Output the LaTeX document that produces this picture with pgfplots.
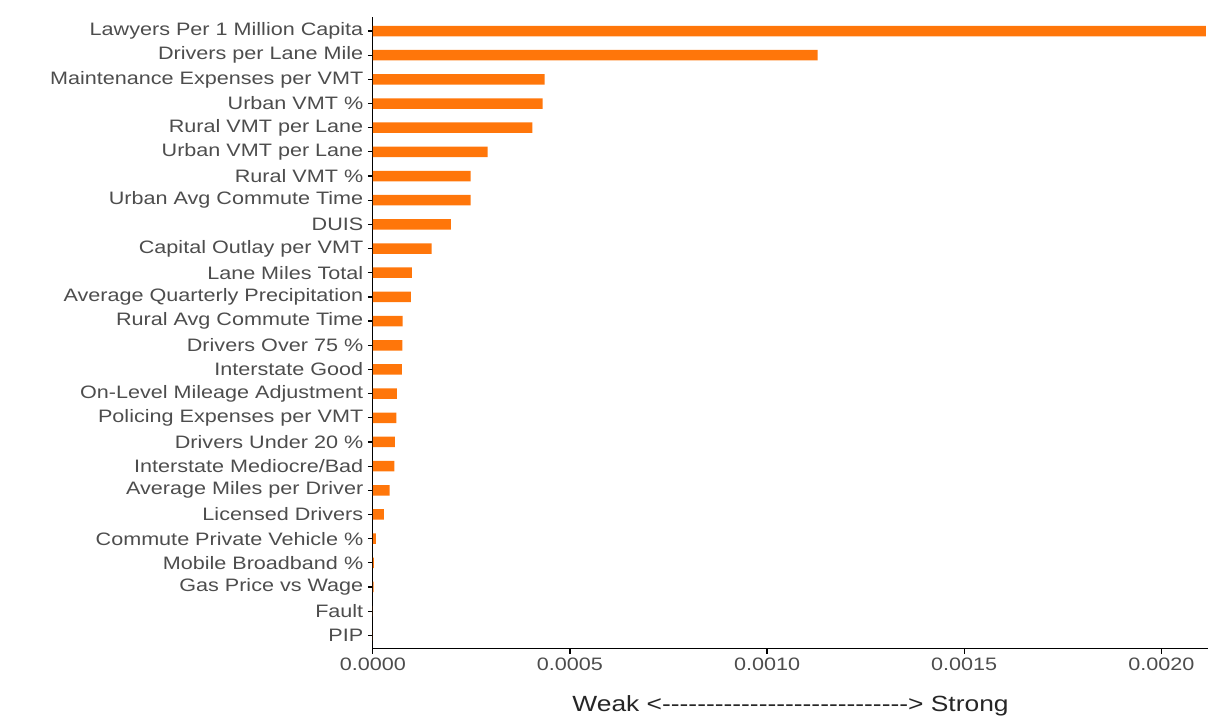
\documentclass[border=0pt]{standalone}
\usepackage{pgfplots}
\pgfplotsset{compat=1.18}
\usepackage{fontspec}
\setmainfont[FakeStretch=1.2]{Liberation Sans}
\definecolor{barorange}{RGB}{255,118,10}
\definecolor{txtgray}{RGB}{77,77,77}
\newcommand{\dashes}{{-}{-}{-}{-}{-}{-}{-}{-}{-}{-}{-}{-}{-}{-}{-}{-}{-}{-}{-}{-}{-}{-}{-}{-}{-}{-}{-}{-}}
\begin{document}
\begin{tikzpicture}
\begin{axis}[
  name=ax,
  scale only axis,
  width=836pt, height=632pt,
  xbar, bar width=10.5pt,
  xmin=0, xmax=0.002119,
  ymin=-0.55, ymax=25.58,
  axis x line*=bottom, axis y line*=left,
  axis line style={line width=1.4pt, black},
  tick style={line width=1.2pt, black},
  tick align=outside, major tick length=5pt,
  scaled x ticks=false,
  xtick={0,0.0005,0.001,0.0015,0.002},
  xticklabels={0.0000,0.0005,0.0010,0.0015,0.0020},
  ytick={0,...,25},
  yticklabels={PIP,Fault,Gas Price vs Wage,Mobile Broadband \%,Commute Private Vehicle \%,Licensed Drivers,Average Miles per Driver,Interstate Mediocre/Bad,Drivers Under 20 \%,Policing Expenses per VMT,On-Level Mileage Adjustment,Interstate Good,Drivers Over 75 \%,Rural Avg Commute Time,Average Quarterly Precipitation,Lane Miles Total,Capital Outlay per VMT,DUIS,Urban Avg Commute Time,Rural VMT \%,Urban VMT per Lane,Rural VMT per Lane,Urban VMT \%,Maintenance Expenses per VMT,Drivers per Lane Mile,Lawyers Per 1 Million Capita},
  ticklabel style={font=\fontsize{18}{20}\selectfont, text=txtgray},
  /pgf/number format/assume math mode=true,
  yticklabel style={xshift=-1pt},
  xticklabel style={yshift=-1pt},
  xlabel={Weak <\dashes> Strong},
  xlabel style={at={(rel axis cs:0.5,0)}, anchor=base, yshift=-63pt, font=\fontsize{22}{24}\selectfont, text=black!85},
  clip=false,
]
\addplot[fill=barorange, draw=none] coordinates {
(0,0) (0,1) (0.000002,2) (0.000003,3) (0.000008,4) (0.000028,5) (0.000043,6) (0.000055,7) (0.000056,8) (0.000060,9) (0.000061,10) (0.0000735,11) (0.000075,12) (0.000076,13) (0.0000963,14) (0.0000994,15) (0.000149,16) (0.000198,17) (0.000248,18) (0.000248,19) (0.000291,20) (0.000405,21) (0.000431,22) (0.000436,23) (0.001128,24) (0.002113,25)
};
\end{axis}
\path (ax.south west) ++(-373pt,-72pt) rectangle ++(1209pt,721pt);
\end{tikzpicture}
\end{document}
